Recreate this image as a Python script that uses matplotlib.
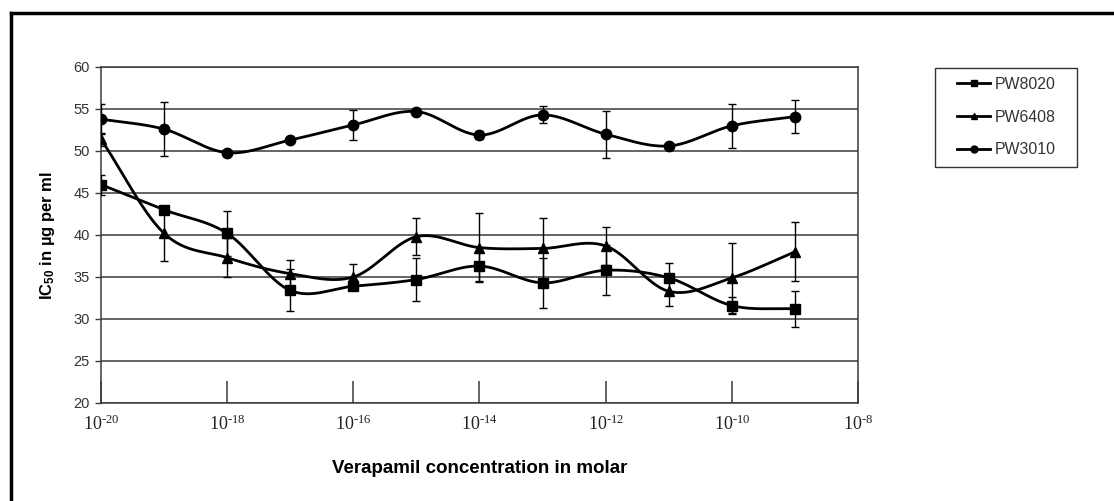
import numpy as np
import matplotlib
matplotlib.use("Agg")
import matplotlib.pyplot as plt
from matplotlib.lines import Line2D
from matplotlib.patches import Rectangle

plt.rcParams['font.family'] = ['Liberation Sans', 'DejaVu Sans']
plt.rcParams['mathtext.fontset'] = 'custom'
plt.rcParams['mathtext.rm'] = 'Liberation Serif'
plt.rcParams['mathtext.it'] = 'Liberation Serif:italic'
plt.rcParams['mathtext.bf'] = 'Liberation Sans:bold'

# log10 of verapamil concentration (molar)
log_conc = [-20, -19, -18, -17, -16, -15, -14, -13, -12, -11, -10, -9]

pw8020 = [46.0, 43.0, 40.2, 33.4, 33.9, 34.7, 36.3, 34.3, 35.8, 34.9, 31.6, 31.2]
pw8020_err = [1.2, 0.5, 2.7, 2.5, 0.5, 2.6, 1.8, 3.0, 3.0, 1.8, 1.0, 2.1]

pw6408 = [51.4, 40.2, 37.3, 35.4, 35.0, 39.8, 38.5, 38.4, 38.7, 33.3, 34.9, 38.0]
pw6408_err = [0.8, 3.3, 2.3, 1.6, 1.5, 2.2, 4.1, 3.6, 2.3, 1.8, 4.2, 3.5]

pw3010 = [53.8, 52.6, 49.8, 51.3, 53.1, 54.7, 51.9, 54.3, 52.0, 50.6, 53.0, 54.1]
pw3010_err = [1.8, 3.2, 0.3, 0.0, 1.8, 0.3, 0.5, 1.0, 2.8, 0.4, 2.6, 2.0]

series_names = ['PW8020', 'PW6408', 'PW3010']
x_tick_exps = [-20, -18, -16, -14, -12, -10, -8]
y_ticks = [20, 25, 30, 35, 40, 45, 50, 55, 60]

W, H = 1114, 501
fig = plt.figure(figsize=(W / 100, H / 100), dpi=100)
ax = fig.add_axes([101 / W, 1 - 403 / H, (858 - 101) / W, (403 - 67) / H])
ax.set_xlim(-20, -8)
ax.set_ylim(20, 60)

# pixel scale factors for smoothing in screen-like space
sx = (858 - 101) / 12.0
sy = (403 - 67) / 40.0


def smooth(xs, ys, n=30):
    px = np.asarray(xs, float) * sx
    py = np.asarray(ys, float) * sy
    P = np.column_stack([px, py])
    P = np.vstack([P[0] * 2 - P[1], P, P[-1] * 2 - P[-2]])
    out = []
    t = np.linspace(0, 1, n, endpoint=False)
    for i in range(1, len(P) - 2):
        p0, p1, p2, p3 = P[i - 1], P[i], P[i + 1], P[i + 2]
        c1 = p1 + (p2 - p0) / 6.0
        c2 = p2 - (p3 - p1) / 6.0
        tt = t[:, None]
        seg = ((1 - tt) ** 3) * p1 + 3 * ((1 - tt) ** 2) * tt * c1 + 3 * (1 - tt) * tt ** 2 * c2 + tt ** 3 * p2
        out.append(seg)
    out.append(P[-2][None, :])
    out = np.vstack(out)
    return out[:, 0] / sx, out[:, 1] / sy


# grid lines
for yv in y_ticks:
    ax.axhline(yv, color='#3a3a3a', lw=1.1, zorder=1)

markers = ['s', '^', 'o']
msizes = [7.5, 7.5, 7.5]
datas = [pw8020, pw6408, pw3010]
errs = [pw8020_err, pw6408_err, pw3010_err]
for name, mk, ms, d, e in zip(series_names, markers, msizes, datas, errs):
    xs, ys = smooth(log_conc, d)
    ax.plot(xs, ys, color='black', lw=2.0, zorder=3, solid_capstyle='round')
    ax.errorbar(log_conc, d, yerr=e, fmt='none', ecolor='black', elinewidth=1.0,
                capsize=3, capthick=1.0, zorder=4)
    ax.plot(log_conc, d, linestyle='none', marker=mk, markersize=ms, color='black', zorder=5)

for s in ax.spines.values():
    s.set_color('#3a3a3a')
    s.set_linewidth(1.1)

ax.set_xticks(x_tick_exps)
ax.set_xticklabels([r'$\mathrm{10^{\text{-}%d}}$' % abs(v) for v in x_tick_exps], fontsize=13,
                   color='#222222')
ax.tick_params(axis='x', direction='in', length=16, width=1.1, color='#3a3a3a', pad=8)
ax.set_yticks(y_ticks)
ax.set_yticklabels([str(v) for v in y_ticks], fontsize=10.5, color='#333333')
ax.tick_params(axis='y', direction='out', length=4, width=1.0, color='#3a3a3a', pad=4)

ax.set_xlabel('Verapamil concentration in molar', fontsize=13.5, fontweight='bold', labelpad=19)
ax.set_ylabel(r'IC$_{\mathbf{50}}$ in µg per ml', fontsize=12, fontweight='bold', labelpad=12)

handles = [Line2D([0], [0], color='black', lw=2, marker=mk, markersize=5) for mk in markers]
leg = fig.legend(handles, series_names, loc='upper left',
                 bbox_to_anchor=(957 / W, 1 - 77 / H), frameon=False,
                 fontsize=11.4, handlelength=2.1, handletextpad=0.3, labelspacing=1.12,
                 borderpad=0, borderaxespad=0)
for t in leg.get_texts():
    t.set_color('#333333')

# legend box
fig.add_artist(Rectangle((935 / W, 1 - 167 / H), (1077 - 935) / W, (167 - 68) / H,
                         transform=fig.transFigure, fill=False, edgecolor='#333333', lw=1.0))

# outer frame (top and left edges)
fig.add_artist(Line2D([11 / W, 1.0], [1 - 13 / H, 1 - 13 / H], transform=fig.transFigure,
                      color='black', lw=2.5))
fig.add_artist(Line2D([11 / W, 11 / W], [0, 1 - 13 / H], transform=fig.transFigure,
                      color='black', lw=2.5))

fig.savefig('out.png', dpi=100)
